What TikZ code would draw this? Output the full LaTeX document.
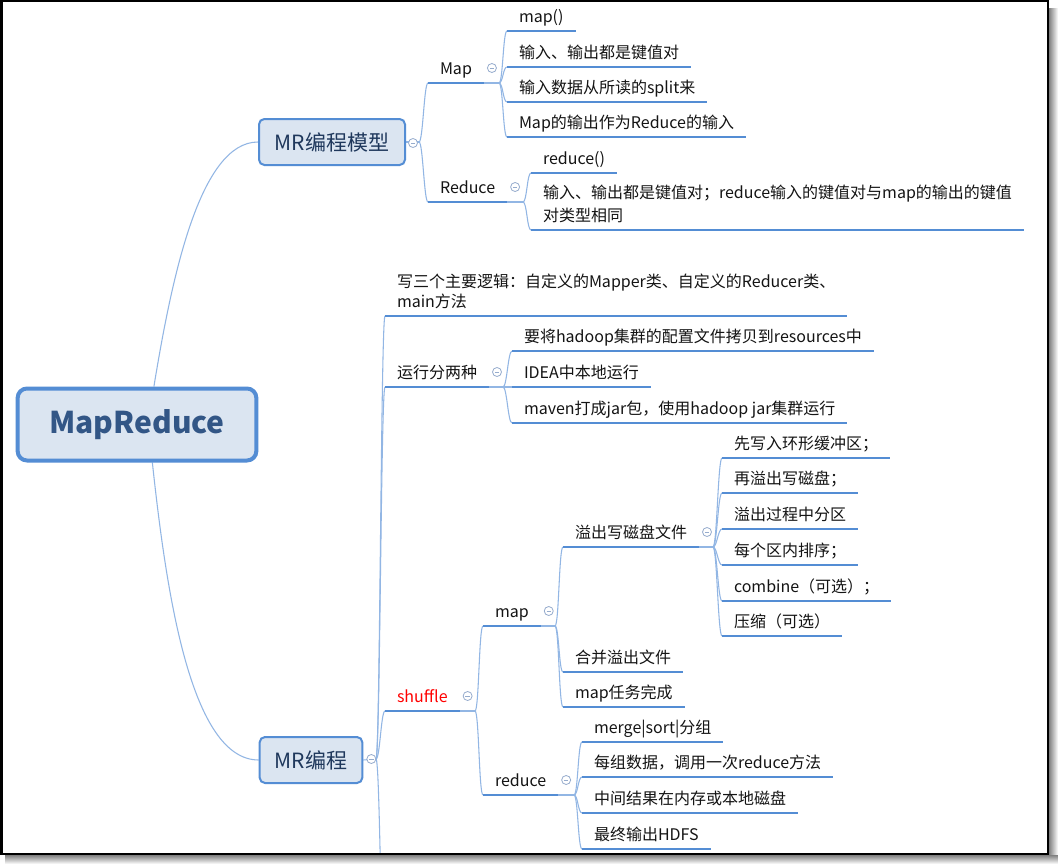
\documentclass[tikz,border=0pt]{standalone}
\usepackage{fontspec}
\setmainfont{Noto Sans CJK SC}
\usepackage{tikz}
\usetikzlibrary{calc,backgrounds}

\definecolor{lineblue}{RGB}{84,141,212}
\definecolor{twigblue}{RGB}{146,182,228}
\definecolor{boxfill}{RGB}{219,229,241}
\definecolor{roottext}{RGB}{50,86,134}
\definecolor{boxtext}{RGB}{31,56,92}
\definecolor{foldgray}{RGB}{150,172,205}
\definecolor{leaftext}{RGB}{20,20,20}

\tikzset{
  rootbox/.style={draw=lineblue, line width=3pt, fill=boxfill, rounded corners=7pt,
    minimum width=179pt, minimum height=54pt, inner sep=0pt, text=roottext,
    font=\fontsize{22.5pt}{27pt}\selectfont\bfseries},
  subbox/.style={draw=lineblue, line width=1.5pt, fill=boxfill, rounded corners=4pt,
    minimum height=34.5pt, inner sep=0pt, text=boxtext,
    font=\fontsize{15.75pt}{19pt}\selectfont},
  topic/.style={anchor=south west, inner xsep=9pt, inner ysep=6.75pt, outer sep=0pt,
    text depth=0pt, text=leaftext, font=\fontsize{12pt}{15pt}\selectfont},
  uline/.style={draw=lineblue, line width=2pt},
  twig/.style={draw=twigblue, line width=0.8pt},
  branch/.style={to path={.. controls +(4,0) and +(-4,0) .. (\tikztotarget)}},
  fold/.style={circle, draw=foldgray, fill=white, line width=0.6pt,
    minimum size=6.75pt, inner sep=0pt,
    path picture={\draw[foldgray, line width=0.6pt]
      ($(path picture bounding box.center)+(-2.2,0)$) --
      ($(path picture bounding box.center)+(2.2,0)$);}}
}

\begin{document}
\begin{tikzpicture}[x=0.75pt, y=-0.75pt]
  \useasboundingbox (0,0) rectangle (1058,864);

  %% the root and the two boxes
  \node[rootbox] (root) at (137,424.5) {MapReduce};
  \node[subbox, minimum width=109.5pt] (mrm) at (332,142) {MR编程模型};
  \node[subbox, minimum width=77pt] (mrp) at (311,760) {MR编程};
  \node[fold] (mrm-fold) at ($(mrm.east)+(7,1)$) {};
  \node[fold] (mrp-fold) at ($(mrp.east)+(8,-1)$) {};

  %% MR编程模型
  \node[topic] (map) at (428,83) {Map};
  \node[topic] (red) at (428,202) {Reduce};
  \node[topic] (mapfn) at (507,31) {map()};
  \node[topic] (mapkv) at (507,67) {输入、输出都是键值对};
  \node[topic] (mapsplit) at (507,102) {输入数据从所读的split来};
  \node[topic] (mapout) at (507,137) {Map的输出作为Reduce的输入};
  \node[topic] (redfn) at (531,173) {reduce()};
  \node[topic, align=left, font=\fontsize{12pt}{17.25pt}\selectfont] (redkv) at (531,230)
    {输入、输出都是键值对；reduce输入的键值对与map的输出的键值\\对类型相同};

  %% MR编程
  \node[topic, align=left] (logic) at (385,316)
    {写三个主要逻辑：自定义的Mapper类、自定义的Reducer类、\\main方法};
  \node[topic] (run) at (385,387) {运行分两种};
  \node[topic] (runres) at (512,351) {要将hadoop集群的配置文件拷贝到resources中};
  \node[topic] (runidea) at (512,387) {IDEA中本地运行};
  \node[topic] (runjar) at (512,423) {maven打成jar包，使用hadoop jar集群运行};

  %% shuffle
  \node[topic, text=red] (shuf) at (385,711) {shuffle};
  \node[topic] (smap) at (483,626) {map};
  \node[topic] (spill) at (563,547) {溢出写磁盘文件};
  \node[topic] (sp1) at (722,458) {先写入环形缓冲区；};
  \node[topic] (sp2) at (722,493) {再溢出写磁盘；};
  \node[topic] (sp3) at (722,529) {溢出过程中分区};
  \node[topic] (sp4) at (722,565) {每个区内排序；};
  \node[topic] (sp5) at (722,601) {combine（可选）；};
  \node[topic] (sp6) at (722,636) {压缩（可选）};
  \node[topic] (merge) at (563,672) {合并溢出文件};
  \node[topic] (mapdone) at (563,707) {map任务完成};
  \node[topic] (sred) at (483,795) {reduce};
  \node[topic] (rd1) at (582,742) {merge|sort|分组};
  \node[topic] (rd2) at (582,777) {每组数据，调用一次reduce方法};
  \node[topic] (rd3) at (582,813) {中间结果在内存或本地磁盘};
  \node[topic] (rd4) at (582,849) {最终输出HDFS};

  %% underlines
  \foreach \n in {map,red,mapfn,mapkv,mapsplit,mapout,redfn,redkv,
                  logic,run,runres,runidea,runjar,shuf,smap,spill,
                  sp1,sp2,sp3,sp4,sp5,sp6,merge,mapdone,sred,rd1,rd2,rd3,rd4}
    \draw[uline] (\n.south west) -- (\n.south east);

  %% fold buttons
  \foreach \n in {map,red,run,shuf,smap,spill,sred}
    \node[fold] (\n-fold) at ($(\n.south east)+(8,-15)$) {};

  \begin{pgfonlayer}{background}
    \fill[white] (0,0) rectangle (1058,864);
    \shade[left color=black!50, right color=white] (1049,8) rectangle (1058,864);
    \shade[top color=black!50, bottom color=white] (5,855) rectangle (1058,864);

    %% root to the boxes
    \draw[twig] (root.66) .. controls +(18,-110) and +(-58,0) .. (mrm.west);
    \draw[twig] (root.-68) .. controls +(14,130) and +(-68,0) .. (mrp.west);

    %% fork points
    \coordinate (mrm-fork) at (419,142);
    \coordinate (map-fork) at (499,83);
    \coordinate (red-fork) at (523,202);
    \coordinate (mrp-fork) at (376,759);
    \coordinate (run-fork) at (503,387);
    \coordinate (shuf-fork) at (475,711);
    \coordinate (smap-fork) at (555,626);
    \coordinate (spill-fork) at (713,547);
    \coordinate (sred-fork) at (574,795);
    \coordinate (mrp-next) at (385,980);

    \draw[twig] (mrm.east) -- (mrm-fork);
    \draw[twig] (mrp.east) -- (mrp-fork);
    \foreach \n in {map,red,run,shuf,smap,spill,sred}
      \draw[twig] (\n.south east) -- (\n-fork);

    \foreach \c in {map,red} \draw[twig] (mrm-fork) to[branch] (\c.south west);
    \foreach \c in {mapfn,mapkv,mapsplit,mapout} \draw[twig] (map-fork) to[branch] (\c.south west);
    \foreach \c in {redfn,redkv} \draw[twig] (red-fork) to[branch] (\c.south west);
    \foreach \c in {logic,run,shuf} \draw[twig] (mrp-fork) to[branch] (\c.south west);
    \foreach \c in {runres,runidea,runjar} \draw[twig] (run-fork) to[branch] (\c.south west);
    \foreach \c in {smap,sred} \draw[twig] (shuf-fork) to[branch] (\c.south west);
    \foreach \c in {spill,merge,mapdone} \draw[twig] (smap-fork) to[branch] (\c.south west);
    \foreach \c in {sp1,sp2,sp3,sp4,sp5,sp6} \draw[twig] (spill-fork) to[branch] (\c.south west);
    \foreach \c in {rd1,rd2,rd3,rd4} \draw[twig] (sred-fork) to[branch] (\c.south west);

    %% the next topic lies below the frame
    \begin{scope}
      \clip (2,2) rectangle (1047,853);
      \draw[twig] (mrp-fork) to[branch] (mrp-next);
    \end{scope}
  \end{pgfonlayer}

  %% frame
  \draw[black, line width=1.5pt] (1.5,1) rectangle (1048,854);
\end{tikzpicture}
\end{document}
